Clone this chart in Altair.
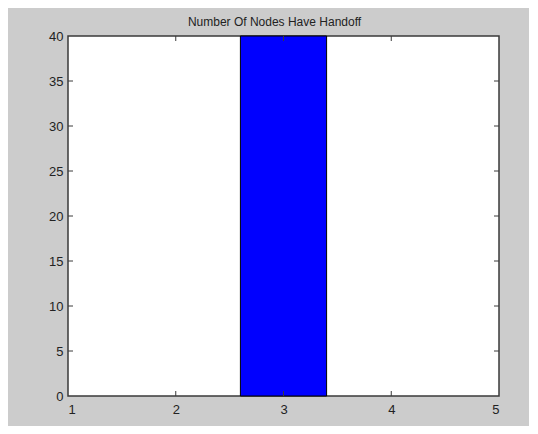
import altair as alt
import pandas as pd

# Data
categories = [3]
counts = [40]
bar_width = 0.8
x_ticks = [1, 2, 3, 4, 5]
y_ticks = [0, 5, 10, 15, 20, 25, 30, 35, 40]
title_text = "Number Of Nodes Have Handoff"

W, H = 431, 360
FONT = "Liberation Sans, Arial, Helvetica, sans-serif"
TXT = "#222222"
EDGE = "#3a3a3a"

bars = pd.DataFrame({
    "x0": [c - bar_width / 2 for c in categories],
    "x1": [c + bar_width / 2 for c in categories],
    "count": counts,
})
xt = pd.DataFrame({"t": [t for t in x_ticks if t not in (x_ticks[0], x_ticks[-1])]})
yt = pd.DataFrame({"t": [t for t in y_ticks if t not in (y_ticks[0], y_ticks[-1])]})

xscale = alt.Scale(domain=[1, 5], nice=False, zero=False)
yscale = alt.Scale(domain=[0, 40], nice=False)

xaxis = alt.Axis(values=x_ticks, ticks=False, domain=False, grid=False, title=None,
                 labelPadding=7, labelFontSize=13, labelFont=FONT, labelColor=TXT,
                 format="d")
yaxis = alt.Axis(values=y_ticks, ticks=False, domain=False, grid=False, title=None,
                 labelPadding=5, labelFontSize=13, labelFont=FONT, labelColor=TXT,
                 format="d")

bar = alt.Chart(bars).mark_rect(color="#0000ff", stroke="black", strokeWidth=1).encode(
    x=alt.X("x0:Q", scale=xscale, axis=xaxis),
    x2="x1:Q",
    y=alt.Y("count:Q", scale=yscale, axis=yaxis),
    y2=alt.datum(0),
)

tick_bottom = alt.Chart(xt).mark_rule(color=EDGE, strokeWidth=1).encode(
    x=alt.X("t:Q", scale=xscale), y=alt.value(H), y2=alt.value(H - 5))
tick_top = alt.Chart(xt).mark_rule(color=EDGE, strokeWidth=1).encode(
    x=alt.X("t:Q", scale=xscale), y=alt.value(0), y2=alt.value(5))
tick_left = alt.Chart(yt).mark_rule(color=EDGE, strokeWidth=1).encode(
    y=alt.Y("t:Q", scale=yscale), x=alt.value(0), x2=alt.value(5))
tick_right = alt.Chart(yt).mark_rule(color=EDGE, strokeWidth=1).encode(
    y=alt.Y("t:Q", scale=yscale), x=alt.value(W), x2=alt.value(W - 5))

chart = alt.layer(bar, tick_bottom, tick_top, tick_left, tick_right).properties(
    width=W, height=H,
    title=alt.TitleParams(title_text, fontSize=12, font=FONT, color=TXT,
                          fontWeight="normal", offset=1, dx=-9, anchor="middle"),
    background="#cccccc",
    padding={"left": 60, "top": 28, "right": 30, "bottom": 30},
    autosize=alt.AutoSizeParams(type="none"),
).configure_view(fill="white", stroke=EDGE, strokeWidth=1.5)

chart.save("out.html", embed_options={"renderer": "svg", "actions": False})
